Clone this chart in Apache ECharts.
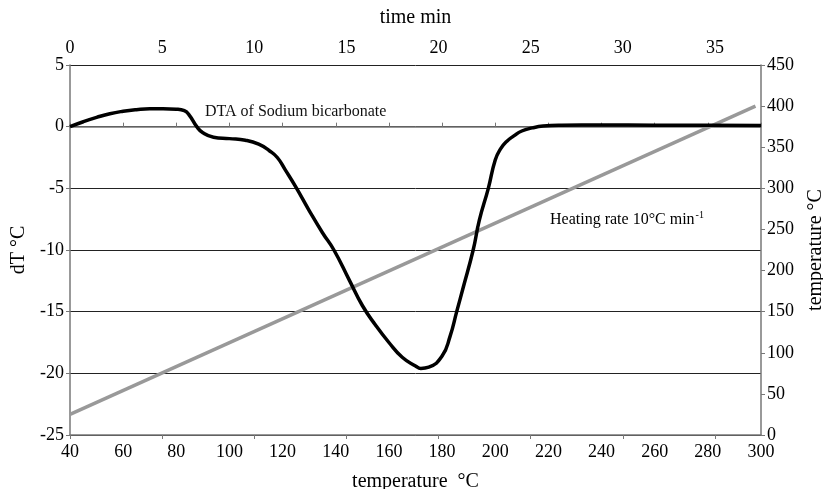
<!DOCTYPE html>
<html>
<head>
<meta charset="utf-8">
<script src="https://cdn.jsdelivr.net/npm/echarts@6/dist/echarts.min.js"></script>
<style>
  html, body { margin: 0; padding: 0; background: #fff; }
  #main { width: 823px; height: 489px; }
</style>
</head>
<body>
<div id="main"></div>
<script>
// DTA curve, temperature (°C) vs dT (°C)
var dtaTemp = [40, 45, 50, 55, 60, 65, 70, 75, 80, 83, 85, 87.7, 90, 94, 100, 106, 111, 115, 118, 121,
  125, 130, 135, 139.3, 145, 150, 155, 160, 165, 170, 172, 175, 180, 183, 185.5, 188, 191.7, 194,
  197.4, 200, 202, 204.3, 207, 210, 214, 218, 225, 240, 260, 280, 300];
var dtaValues = [0, 0.4, 0.75, 1.05, 1.25, 1.38, 1.45, 1.45, 1.42, 1.3, 0.9, 0, -0.5, -0.86, -0.97, -1.1, -1.42, -1.95, -2.5, -3.5,
  -4.9, -6.8, -8.6, -10, -12.4, -14.5, -16.1, -17.5, -18.7, -19.4, -19.6, -19.5, -18.6, -17.0, -15, -13.0, -10, -7.6,
  -5, -2.7, -1.8, -1.2, -0.75, -0.35, -0.1, 0.05, 0.12, 0.14, 0.12, 0.12, 0.1];

// heating line, time (min) vs temperature (°C)
var heatTime = [0, 37.2];
var heatTemp = [25, 400];

var dtaLabel = 'DTA of Sodium bicarbonate';
var heatLabel = 'Heating rate 10°C min';

var font = 'Liberation Serif, Times New Roman, serif';

var chart = echarts.init(document.getElementById('main'));

function pairs(xs, ys) {
  return xs.map(function (x, i) { return [x, ys[i]]; });
}

var tickLabel = { color: '#000', fontFamily: font, fontSize: 18 };
var nameStyle = { color: '#000', fontFamily: font, fontSize: 20 };
var axisLine = { lineStyle: { color: '#777', width: 1.5 } };

chart.setOption({
  backgroundColor: '#fff',
  animation: false,
  grid: { left: 70, right: 62, top: 65, bottom: 54, outerBoundsMode: 'none', containLabel: false },
  xAxis: [
    {
      type: 'value', position: 'bottom', min: 40, max: 300, interval: 20,
      name: 'temperature  °C', nameLocation: 'middle', nameGap: 37, nameTextStyle: nameStyle,
      axisLine: axisLine, axisTick: { inside: true, length: 4, lineStyle: { color: '#777' } },
      axisLabel: Object.assign({ margin: 8 }, tickLabel),
      splitLine: { show: false }
    },
    {
      type: 'value', position: 'top', min: 0, max: 37.5, interval: 5,
      name: 'time min', nameLocation: 'middle', nameGap: 37, nameTextStyle: nameStyle,
      axisLine: axisLine, axisTick: { inside: true, length: 4, lineStyle: { color: '#777' } },
      axisLabel: Object.assign({ margin: 8, showMaxLabel: false }, tickLabel),
      splitLine: { show: false }
    }
  ],
  yAxis: [
    {
      type: 'value', position: 'left', min: -25, max: 5, interval: 5,
      name: 'dT °C', nameLocation: 'middle', nameGap: 40, nameTextStyle: nameStyle,
      axisLine: axisLine, axisTick: { length: 4, lineStyle: { color: '#777' } },
      axisLabel: Object.assign({ margin: 6 }, tickLabel),
      splitLine: { show: true, lineStyle: { color: '#222', width: 1 } }
    },
    {
      type: 'value', position: 'right', min: 0, max: 450, interval: 50,
      name: 'temperature °C', nameLocation: 'middle', nameGap: 45, nameTextStyle: nameStyle,
      axisLine: axisLine, axisTick: { length: 4, lineStyle: { color: '#777' } },
      axisLabel: Object.assign({ margin: 6 }, tickLabel),
      splitLine: { show: false }
    }
  ],
  series: [
    {
      type: 'line', xAxisIndex: 1, yAxisIndex: 1,
      data: pairs(heatTime, heatTemp),
      showSymbol: false, lineStyle: { color: '#999', width: 3.5 }, z: 2
    },
    {
      type: 'line', xAxisIndex: 0, yAxisIndex: 0,
      data: pairs(dtaTemp, dtaValues),
      smooth: 0.5, showSymbol: false, lineStyle: { color: '#000', width: 3.5 }, z: 3
    }
  ],
  graphic: [
    {
      type: 'text', left: 205, top: 104,
      style: { text: dtaLabel, fill: '#111', font: '16px ' + font }
    },
    {
      type: 'text', left: 550, top: 210,
      style: {
        text: '{a|' + heatLabel + '}{s|-1}',
        rich: {
          a: { fontFamily: font, fontSize: 16, color: '#111', lineHeight: 20 },
          s: { fontFamily: font, fontSize: 10, color: '#111', verticalAlign: 'top', lineHeight: 20, padding: [0, 0, 8, 1] }
        }
      }
    }
  ]
});
</script>
</body>
</html>
